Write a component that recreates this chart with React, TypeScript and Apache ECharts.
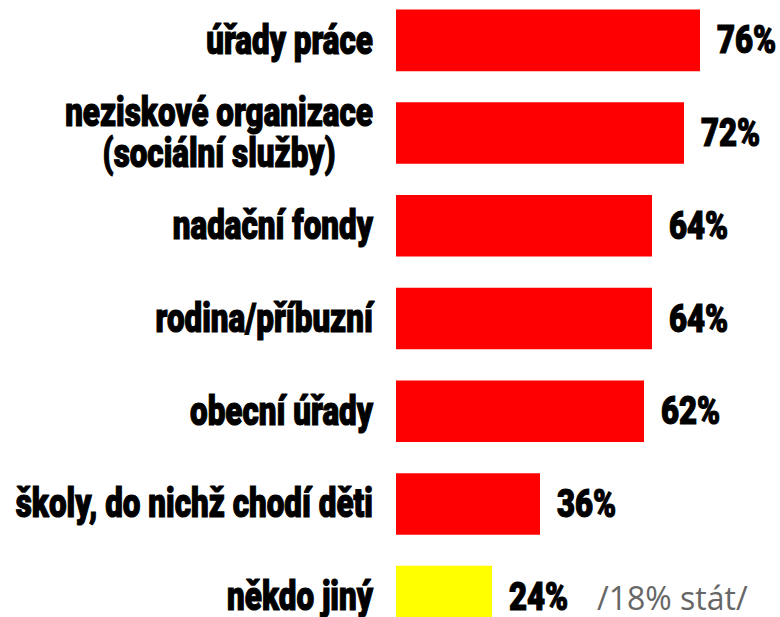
import React, { useEffect, useRef } from "react";
import * as echarts from "echarts";

const categories = [
  ["úřady práce"],
  ["neziskové organizace", "(sociální služby)"],
  ["nadační fondy"],
  ["rodina/příbuzní"],
  ["obecní úřady"],
  ["školy, do nichž chodí děti"],
  ["někdo jiný"],
];
const categoryKeys = categories.map((c) => c.join(" "));
const values = [76, 72, 64, 64, 62, 36, 24];
const barColors = ["#ff0000", "#ff0000", "#ff0000", "#ff0000", "#ff0000", "#ff0000", "#ffff00"];
const notes = ["", "", "", "", "", "", "/18% stát/"];

const heavyFont = 'Roboto, "DejaVu Sans", sans-serif';

export default function App() {
  const ref = useRef<HTMLDivElement>(null);
  useEffect(() => {
    if (!ref.current) return;
    const chart = echarts.init(ref.current, null, { renderer: "svg" });
    chart.setOption({
      animation: false,
      grid: { left: 396, width: 400, top: -6, height: 649, containLabel: false, outerBoundsMode: "none" },
      xAxis: { type: "value", min: 0, max: 100, show: false },
      yAxis: {
        type: "category",
        data: categoryKeys,
        inverse: true,
        axisLine: { show: false },
        axisTick: { show: false },
        splitLine: { show: false },
        axisLabel: { show: false },
      },
      series: [
        {
          type: "bar",
          data: values.map((v, i) => ({ value: v, itemStyle: { color: barColors[i] } })),
          barCategoryGap: "33.6%",
          label: { show: false },
        },
        {
          type: "custom",
          silent: true,
          data: categories.map((_, i) => [0, i]),
          renderItem: (params: any, api: any) => {
            const p = api.coord([0, api.value(1)]);
            const lines = categories[params.dataIndex];
            return {
              type: "text",
              x: p[0] - 23,
              y: p[1],
              scaleX: 0.785,
              style: {
                text: lines.map((l) => `{c|${l}}`).join("\n"),
                align: "right",
                verticalAlign: "middle",
                rich: {
                  c: {
                    align: "center",
                    fontFamily: heavyFont,
                    fontWeight: 900,
                    fontSize: 40,
                    lineHeight: 41,
                    fill: "#000",
                    stroke: "#000",
                    lineWidth: 1.2,
                  },
                },
              },
            };
          },
        },
        {
          type: "custom",
          silent: true,
          data: values.map((v, i) => [v, i]),
          renderItem: (params: any, api: any) => {
            const p = api.coord([api.value(0), api.value(1)]);
            const children: any[] = [
              {
                type: "text",
                x: p[0] + 17,
                y: p[1],
                scaleX: 0.82,
                style: {
                  text: `${api.value(0)}%`,
                  align: "left",
                  verticalAlign: "middle",
                  fontFamily: heavyFont,
                  fontWeight: 900,
                  fontSize: 38,
                  fill: "#000",
                  stroke: "#000",
                  lineWidth: 1.2,
                },
              },
            ];
            const note = notes[params.dataIndex];
            if (note) {
              children.push({
                type: "text",
                x: p[0] + 105,
                y: p[1] + 1,
                style: {
                  text: note,
                  align: "left",
                  verticalAlign: "middle",
                  fontFamily: '"Open Sans", "Noto Sans", sans-serif',
                  fontSize: 32,
                  fill: "#666666",
                },
              });
            }
            return { type: "group", children };
          },
        },
      ],
    });
    return () => chart.dispose();
  }, []);
  return (
    <div
      ref={ref}
      style={{ position: "absolute", left: 0, top: 0, width: 780, height: 617 }}
    />
  );
}
